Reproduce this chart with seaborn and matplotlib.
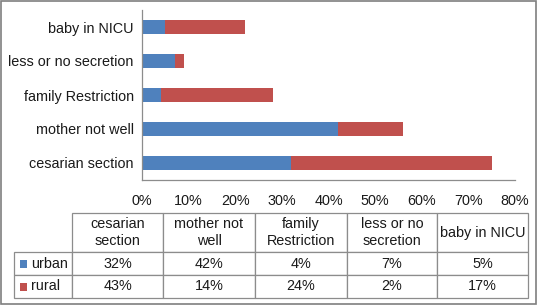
import matplotlib
matplotlib.use("Agg")
import matplotlib.pyplot as plt
from matplotlib.patches import Rectangle
from matplotlib.ticker import FuncFormatter
import seaborn as sns
import pandas as pd

# data (percent)
reasons = ['cesarian section', 'mother not well', 'family Restriction',
           'less or no secretion', 'baby in NICU']
header_labels = ['cesarian\nsection', 'mother not\nwell', 'family\nRestriction',
                 'less or no\nsecretion', 'baby in NICU']
urban = [32, 42, 4, 7, 5]
rural = [43, 14, 24, 2, 17]
x_ticks = [0, 10, 20, 30, 40, 50, 60, 70, 80]

blue = '#4F81BD'
red = '#C0504D'
grey = '#8C8C8C'

df = pd.DataFrame({'reason': reasons, 'urban': urban, 'rural': rural})
df['total'] = df['urban'] + df['rural']
order = reasons[::-1]  # top of chart = last category

sns.set_style('white')
plt.rcParams['font.family'] = ['Liberation Sans', 'DejaVu Sans']
fs = 10.4

W, H = 538, 308
fig = plt.figure(figsize=(W / 100, H / 100), dpi=100)

# bar chart area
ax = fig.add_axes([142 / W, (H - 180) / H, (515 - 142) / W, 170 / H])
sns.barplot(data=df, x='total', y='reason', order=order, color=red,
            width=0.41, saturation=1, linewidth=0, ax=ax, orient='h')
sns.barplot(data=df, x='urban', y='reason', order=order, color=blue,
            width=0.41, saturation=1, linewidth=0, ax=ax, orient='h')
ax.set_xlim(0, 80)
ax.set_xticks(x_ticks)
ax.xaxis.set_major_formatter(FuncFormatter(lambda v, p: '%d%%' % v))
ax.set_xlabel('')
ax.set_ylabel('')
for s in ['top', 'right']:
    ax.spines[s].set_visible(False)
for s in ['left', 'bottom']:
    ax.spines[s].set_color(grey)
    ax.spines[s].set_linewidth(0.9)
ax.tick_params(axis='y', length=0, pad=6, labelsize=fs, colors='#1a1a1a')
ax.tick_params(axis='x', length=0, pad=10, labelsize=fs, colors='#1a1a1a')

# data table below
tx0, ty0 = 14, 298
tw, th = 528 - 14, 298 - 213
tax = fig.add_axes([tx0 / W, (H - ty0) / H, tw / W, th / H])
tax.axis('off')

cell_text = [[''] + header_labels,
             [''] + ['%d%%' % v for v in urban],
             [''] + ['%d%%' % v for v in rural]]
col_w = [58, 91, 92, 92, 90, 91]
row_h = [39, 23, 23]
tbl = tax.table(cellText=cell_text, cellLoc='center', bbox=[0, 0, 1, 1])
tbl.auto_set_font_size(False)
tbl.set_fontsize(fs)
for (r, c), cell in tbl.get_celld().items():
    cell.set_width(col_w[c])
    cell.set_height(row_h[r])
    cell.set_edgecolor(grey)
    cell.set_linewidth(0.9)
    cell.get_text().set_color('#1a1a1a')
    cell.get_text().set_linespacing(1.35)
tbl[0, 0].visible_edges = 'open'

# row labels with legend keys
for name, col, yc in [('urban', blue, 263.5), ('rural', red, 286.5)]:
    tax.add_patch(Rectangle(((20 - tx0) / tw, (ty0 - yc - 4) / th), 7 / tw, 8 / th,
                            transform=tax.transAxes, facecolor=col,
                            edgecolor='none', clip_on=False))
    tax.text((31 - tx0) / tw, (ty0 - yc) / th, name, transform=tax.transAxes,
             ha='left', va='center', fontsize=fs, color='#1a1a1a')

# outer frame
fig.patches.append(Rectangle((1 / W, 4 / H), 535 / W, 303 / H,
                             transform=fig.transFigure, fill=False,
                             edgecolor='#7f7f7f', linewidth=1.2))

fig.savefig('out.png', dpi=100)
